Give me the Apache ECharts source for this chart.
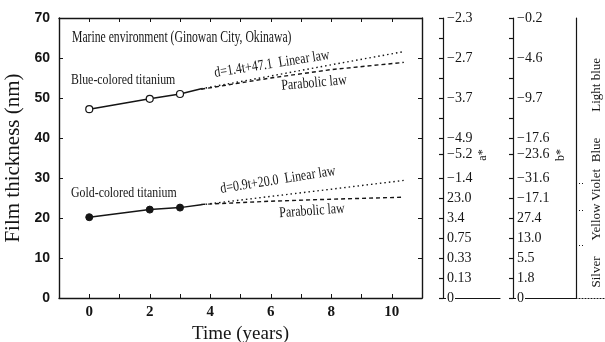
<!DOCTYPE html>
<html>
<head>
<meta charset="utf-8">
<script src="https://cdn.jsdelivr.net/npm/echarts@6/dist/echarts.min.js"></script>
<style>
html,body{margin:0;padding:0;background:#fff}
#chart{width:605px;height:342px}
</style>
</head>
<body>
<div id="chart"></div>
<script>
// measured film thickness (nm)
var years = [0, 2, 3];
var blueMeasured = [47.2, 49.8, 51.0];
var goldMeasured = [20.2, 22.1, 22.6];

// extrapolated laws
var trendYears = [3.7, 6, 8, 10.4];
var blueLinear = [52.3, 55.5, 58.3, 61.6];
var blueParabolic = [52.2, 55.0, 57.1, 58.9];
var goldLinear = [23.3, 25.4, 27.2, 29.4];
var goldParabolic = [23.4, 24.2, 24.7, 25.2];

// colour coordinate scales (thickness -> a*, b*)
var colorTickThickness = [0, 5, 10, 15, 20, 25, 30, 36, 40, 50, 60, 70];
var aStarLabels = ['0', '0.13', '0.33', '0.75', '3.4', '23.0', '\u22121.4', '\u22125.2', '\u22124.9', '\u22123.7', '\u22122.7', '\u22122.3'];
var bStarLabels = ['0', '1.8', '5.5', '13.0', '27.4', '\u221217.1', '\u221231.6', '\u221223.6', '\u221217.6', '\u22129.7', '\u22124.6', '\u22120.2'];
var scaleTicks = [0, 5, 10, 15, 20, 25, 30, 36, 40, 45, 50, 55, 60, 65, 70];

// observed colours
var bandNames = ['Silver', 'Yellow', 'Violet', 'Blue', 'Light blue'];
var bandCentres = [6.5, 19, 28.3, 37, 53.3];
var bandBounds = [13.25, 22, 28.75];

var ink = '#151515';
var serif = 'Liberation Serif';

function pairs(xs, ys) {
    return xs.map(function (x, i) { return [x, ys[i]]; });
}

var chart = echarts.init(document.getElementById('chart'));

function scaleYAxis(gridIndex, labels) {
    return {
        gridIndex: gridIndex, type: 'value', min: 0, max: 70, position: 'left', z: 3,
        splitLine: { show: false },
        axisLine: { show: true, onZero: false, lineStyle: { color: ink, width: 1.2 } },
        axisTick: { show: true, inside: false, length: 4, customValues: scaleTicks, lineStyle: { color: ink, width: 1.2 } },
        axisLabel: {
            inside: true, margin: 3, color: ink, fontFamily: serif, fontSize: 14,
            customValues: colorTickThickness,
            backgroundColor: '#fff', padding: [0, 1],
            formatter: function (v) { return labels[colorTickThickness.indexOf(v)]; }
        }
    };
}
function scaleXAxis(gridIndex, dotted) {
    return {
        gridIndex: gridIndex, type: 'value', min: 0, max: 1, z: 1,
        axisLine: { show: true, onZero: false, lineStyle: { color: ink, width: 1.2, type: dotted ? [1, 2] : 'solid' } },
        axisTick: { show: false }, axisLabel: { show: false }, splitLine: { show: false }
    };
}

function lawLine(name, data, dash) {
    return {
        name: name, type: 'line', xAxisIndex: 0, yAxisIndex: 0, data: data,
        symbol: 'none', silent: true,
        lineStyle: { color: ink, width: 1.4, type: dash }
    };
}

function note(text, x, y, deg, size, sx, align) {
    return {
        type: 'text', x: x, y: y, rotation: (deg || 0) * Math.PI / 180,
        scaleX: sx || 1, z: 10,
        style: {
            text: text, fill: ink, font: (size || 14) + 'px "' + serif + '"',
            align: align || 'center', verticalAlign: 'middle'
        }
    };
}

var option = {
    backgroundColor: '#fff',
    animation: false,
    grid: [
        { left: 59, right: 183, top: 18, bottom: 44, outerBoundsMode: 'none' },
        { left: 443, right: 105, top: 18, bottom: 44, outerBoundsMode: 'none' },
        { left: 513, right: 29, top: 18, bottom: 44, outerBoundsMode: 'none' },
        { left: 576, right: 0, top: 18, bottom: 44, outerBoundsMode: 'none' }
    ],
    xAxis: [
        {
            gridIndex: 0, type: 'value', min: -1, max: 11, interval: 1,
            name: 'Time (years)', nameLocation: 'middle', nameGap: 24,
            nameTextStyle: { fontFamily: serif, fontSize: 19, color: ink },
            axisLine: { onZero: false, lineStyle: { color: ink, width: 1.4 } },
            axisTick: { inside: true, length: 4, lineStyle: { color: ink } },
            axisLabel: { customValues: [0, 2, 4, 6, 8, 10], margin: 7, color: ink, fontFamily: serif, fontWeight: 'bold', fontSize: 15 },
            splitLine: { show: false }
        },
        {
            gridIndex: 0, type: 'value', position: 'top', min: -1, max: 11, interval: 1,
            axisLine: { show: true, onZero: false, lineStyle: { color: ink, width: 1.4 } },
            axisTick: { inside: true, length: 4, lineStyle: { color: ink } },
            axisLabel: { show: false }, splitLine: { show: false }
        },
        scaleXAxis(1, false),
        scaleXAxis(2, false),
        scaleXAxis(3, true)
    ],
    yAxis: [
        {
            gridIndex: 0, type: 'value', min: 0, max: 70, interval: 10,
            name: 'Film thickness (nm)', nameLocation: 'middle', nameGap: 35, nameRotate: 90,
            nameTextStyle: { fontFamily: serif, fontSize: 21, color: ink },
            axisLine: { show: true, onZero: false, lineStyle: { color: ink, width: 1.4 } },
            axisTick: { show: true, inside: true, length: 4, lineStyle: { color: ink } },
            axisLabel: { margin: 9, color: ink, fontFamily: 'Liberation Sans', fontWeight: 'bold', fontSize: 14 },
            splitLine: { show: false }
        },
        {
            gridIndex: 0, type: 'value', position: 'right', min: 0, max: 70, interval: 10,
            axisLine: { show: true, onZero: false, lineStyle: { color: ink, width: 1.4 } },
            axisTick: { show: true, inside: true, length: 4, lineStyle: { color: ink } },
            axisLabel: { show: false }, splitLine: { show: false }
        },
        scaleYAxis(1, aStarLabels),
        scaleYAxis(2, bStarLabels),
        {
            gridIndex: 3, type: 'value', min: 0, max: 70, position: 'left',
            splitLine: { show: false },
            axisLine: { show: true, onZero: false, lineStyle: { color: ink, width: 1.2 } },
            axisTick: { show: true, inside: true, length: 9, customValues: bandBounds, lineStyle: { color: ink, type: [1, 2] } },
            axisLabel: {
                inside: true, rotate: 90, margin: 14, color: ink, fontFamily: serif, fontSize: 13,
                customValues: bandCentres,
                formatter: function (v) { return bandNames[bandCentres.indexOf(v)]; }
            }
        }
    ],
    series: [
        {
            name: 'Blue-colored titanium', type: 'line', xAxisIndex: 0, yAxisIndex: 0,
            data: pairs(years, blueMeasured), z: 5,
            symbol: 'circle', symbolSize: 7,
            itemStyle: { color: '#fff', borderColor: ink, borderWidth: 1.2 },
            lineStyle: { color: ink, width: 1.5 }
        },
        lawLine('blue solid', [[years[2], blueMeasured[2]], [trendYears[0], blueLinear[0]]], 'solid'),
        lawLine('blue linear', pairs(trendYears, blueLinear), [1.5, 3]),
        lawLine('blue parabolic', pairs(trendYears, blueParabolic), [4, 3]),
        {
            name: 'Gold-colored titanium', type: 'line', xAxisIndex: 0, yAxisIndex: 0,
            data: pairs(years, goldMeasured), z: 5,
            symbol: 'circle', symbolSize: 7,
            itemStyle: { color: ink, borderColor: ink, borderWidth: 1 },
            lineStyle: { color: ink, width: 1.5 }
        },
        lawLine('gold solid', [[years[2], goldMeasured[2]], [trendYears[0], goldLinear[0]]], 'solid'),
        lawLine('gold linear', pairs(trendYears, goldLinear), [1.5, 3]),
        lawLine('gold parabolic', pairs(trendYears, goldParabolic), [4, 3])
    ],
    graphic: [
        note('Marine environment (Ginowan City, Okinawa)', 72, 38, 0, 16, 0.73, 'left'),
        note('Blue-colored titanium', 71, 80, 0, 15, 0.79, 'left'),
        note('Gold-colored titanium', 71, 193, 0, 15, 0.79, 'left'),
        note('d=1.4t+47.1  Linear law', 272, 64, 9, 15, 0.8),
        note('Parabolic law', 314, 83, 5, 15, 0.8),
        note('d=0.9t+20.0  Linear law', 278, 180, 9, 15, 0.8),
        note('Parabolic law', 312, 211, 4, 15, 0.8),
        note('a*', 483, 155, 90, 12, 1),
        note('b*', 561, 155, 90, 12, 1)
    ]
};
chart.setOption(option);
</script>
</body>
</html>
